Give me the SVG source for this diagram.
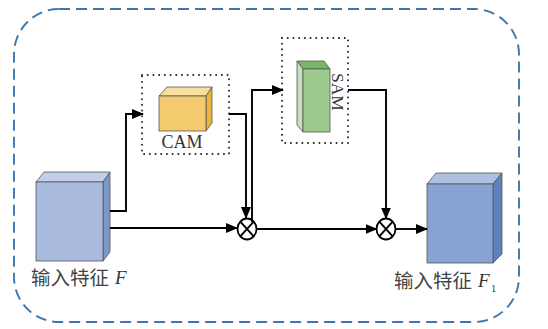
<svg xmlns="http://www.w3.org/2000/svg" width="548" height="329" viewBox="0 0 548 329">
<defs>
<marker id="arr" markerWidth="12" markerHeight="10" refX="11" refY="5" orient="auto" markerUnits="userSpaceOnUse">
<path d="M0,0 L12,5 L0,10 z" fill="#000"/>
</marker>
<style>
.ln{fill:none;stroke:#000;stroke-width:1.9}
.dot{fill:none;stroke:#222;stroke-width:1.9;stroke-dasharray:0.1 5.6;stroke-linecap:round}
.edge{stroke:#555;stroke-width:0.8}
.lbl{font-family:"Liberation Serif","Noto Sans CJK SC",serif;fill:#333}
.cjk{font-family:"Noto Sans CJK SC","Liberation Serif",sans-serif;fill:#444}
</style>
</defs>
<rect x="14" y="9" width="505" height="313" rx="45" ry="45" fill="none" stroke="#3a77b0" stroke-width="1.9" stroke-dasharray="11 6"/>

<g id="input">
<polygon class="edge" points="36,182 44,172 110,172 103,182" fill="#c3cfe9"/>
<polygon class="edge" points="103,182 110,172 110,252 103,261" fill="#7d97ca"/>
<rect class="edge" x="36" y="182" width="67" height="79" fill="#a8bbde"/>
<text class="cjk" x="31" y="285" font-size="19.5">输入特征</text>
<text class="lbl" x="115" y="284" font-size="19" font-style="italic">F</text>
</g>

<g id="cam">
<rect class="dot" x="142" y="75" width="87" height="79"/>
<polygon class="edge" points="159,96 167,87 212,87 206,96" fill="#f8df9e"/>
<polygon class="edge" points="206,96 212,87 212,123 206,131" fill="#e9b53c"/>
<rect class="edge" x="159" y="96" width="47" height="35" fill="#f3cb6e"/>
<text class="lbl" x="182" y="148" font-size="18" text-anchor="middle">CAM</text>
</g>

<g id="sam">
<rect class="dot" x="282" y="38" width="66" height="105"/>
<polygon class="edge" points="297,61 324,61 330,69 303,69" fill="#78b766"/>
<polygon class="edge" points="297,61 303,69 303,132 297,125" fill="#c6e0b9"/>
<rect class="edge" x="303" y="69" width="27" height="63" fill="#9dcb8e"/>
<text class="lbl" x="0" y="0" font-size="17.5" transform="translate(332,73) rotate(90)">SAM</text>
</g>

<g id="mul1">
<ellipse cx="247" cy="229" rx="9.5" ry="10.5" fill="#fff" stroke="#000" stroke-width="1.8"/>
<path class="ln" d="M240.3,221.6 L253.7,236.4 M253.7,221.6 L240.3,236.4" stroke-width="1.4"/>
</g>

<g id="mul2">
<ellipse cx="386" cy="229" rx="9.5" ry="10.5" fill="#fff" stroke="#000" stroke-width="1.8"/>
<path class="ln" d="M379.3,221.6 L392.7,236.4 M392.7,221.6 L379.3,236.4" stroke-width="1.4"/>
</g>

<g id="output">
<polygon class="edge" points="427,184 436,173 502,173 493,184" fill="#aebfe2"/>
<polygon class="edge" points="493,184 502,173 502,254 493,263" fill="#5f82bd"/>
<rect class="edge" x="427" y="184" width="66" height="79" fill="#87a3d4"/>
<text class="cjk" x="394" y="288" font-size="19.5">输入特征</text>
<text class="lbl" x="478" y="287" font-size="19" font-style="italic">F</text>
<text class="lbl" x="491" y="292" font-size="10.5">1</text>
</g>

<g id="connectors">
<polyline class="ln" points="110,211 126,211 126,114 143,114" marker-end="url(#arr)"/>
<polyline class="ln" points="110,228 237,228" marker-end="url(#arr)"/>
<polyline class="ln" points="229,114 246,114 246,218" marker-end="url(#arr)"/>
<polyline class="ln" points="252,222 252,90 283,90" marker-end="url(#arr)"/>
<polyline class="ln" points="256.5,229 376.5,229" marker-end="url(#arr)"/>
<polyline class="ln" points="348,90 386,90 386,218.5" marker-end="url(#arr)"/>
<polyline class="ln" points="395.5,229 427,229" marker-end="url(#arr)"/>
</g>
</svg>
